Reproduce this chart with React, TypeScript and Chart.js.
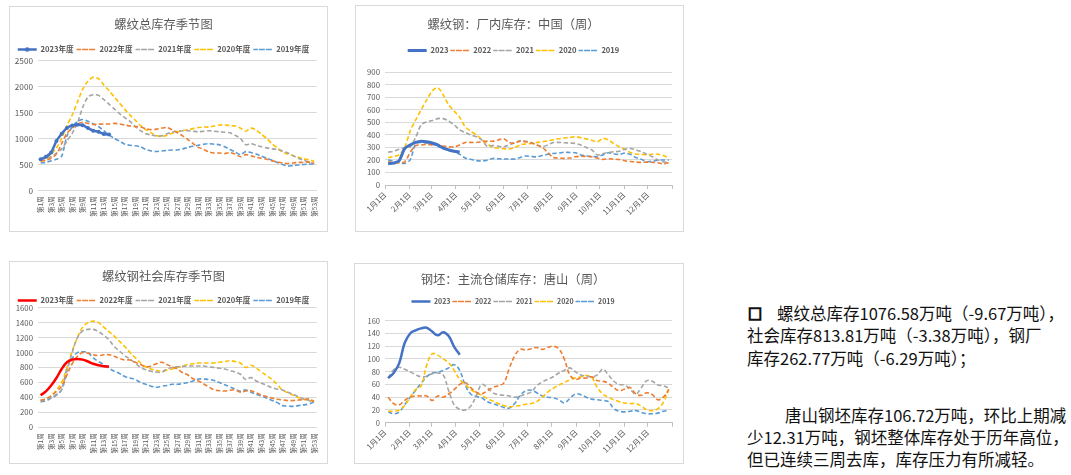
import React, { useEffect, useRef } from 'react';
import { Chart, registerables } from 'chart.js';

Chart.register(...registerables);

const FONT = '"Noto Sans CJK SC", "Noto Sans", sans-serif';
const TEXT = '#595959';
const GRID = '#d9d9d9';
const AXIS = '#bfbfbf';
const C2023 = '#4472c4';
const C2023_RED = '#ff0000';
const C2022 = '#ed7d31';
const C2021 = '#a5a5a5';
const C2020 = '#ffc000';
const C2019 = '#5b9bd5';

// ---------- tick labels ----------
const WEEK_LABELS = Array.from({ length: 53 }, (_, i) => `第${i + 1}周`);
const MONTH_DAYS = [0, 31, 59, 90, 120, 151, 181, 212, 243, 273, 304, 334, 365];
const MONTH_LABELS = ['1月1日', '2月1日', '3月1日', '4月1日', '5月1日', '6月1日', '7月1日', '8月1日', '9月1日', '10月1日', '11月1日', '12月1日', ''];

// ---------- chart 1: 螺纹总库存季节图 (weeks 1..53) ----------
const TOTAL_2023 = [600, 650, 730, 950, 1090, 1200, 1250, 1265, 1255, 1200, 1150, 1130, 1086, 1077];
const TOTAL_2022 = [570, 580, 620, 700, 900, 1100, 1200, 1280, 1310, 1290, 1270, 1275, 1280, 1280, 1290, 1280, 1260, 1240, 1230, 1220, 1190, 1170, 1180, 1200, 1210, 1170, 1110, 1050, 980, 900, 830, 790, 740, 720, 720, 710, 730, 700, 650, 690, 670, 640, 620, 600, 570, 550, 530, 520, 530, 540, 540, 545, 520];
const TOTAL_2021 = [600, 620, 650, 720, 800, 950, 1100, 1300, 1600, 1800, 1840, 1830, 1750, 1660, 1570, 1480, 1400, 1330, 1230, 1150, 1090, 1070, 1050, 1050, 1090, 1120, 1140, 1150, 1150, 1140, 1130, 1140, 1150, 1140, 1130, 1120, 1110, 1060, 1000, 880, 900, 870, 840, 820, 800, 790, 760, 720, 670, 620, 580, 550, 520];
const TOTAL_2020 = [560, 600, 700, 820, 1000, 1250, 1450, 1700, 1950, 2100, 2180, 2150, 2030, 1920, 1800, 1680, 1560, 1450, 1350, 1250, 1170, 1110, 1060, 1040, 1060, 1100, 1130, 1150, 1170, 1190, 1210, 1220, 1220, 1240, 1260, 1260, 1250, 1240, 1200, 1140, 1200, 1160, 1080, 1000, 900, 820, 740, 700, 670, 640, 610, 590, 560];
const TOTAL_2019 = [530, 540, 570, 600, 660, 1050, 1220, 1330, 1365, 1330, 1280, 1230, 1150, 1070, 1000, 950, 890, 870, 860, 840, 790, 760, 750, 760, 770, 780, 780, 800, 830, 850, 870, 890, 900, 890, 880, 840, 790, 740, 690, 750, 730, 700, 660, 620, 580, 540, 500, 470, 480, 490, 500, 510, 510];

// ---------- chart 2: 螺纹钢：厂内库存：中国（周） (weekly) ----------
const MILL_2023 = [170, 175, 195, 290, 320, 340, 350, 345, 335, 320, 295, 280, 269, 263];
const MILL_2022 = [185, 180, 178, 185, 260, 315, 320, 325, 320, 318, 312, 305, 305, 320, 340, 340, 340, 345, 350, 350, 360, 370, 340, 335, 350, 345, 335, 320, 300, 260, 220, 215, 213, 215, 225, 230, 228, 225, 215, 205, 210, 207, 203, 193, 188, 183, 181, 183, 181, 178, 168, 180];
const MILL_2021 = [262, 270, 285, 298, 305, 380, 480, 505, 515, 530, 530, 510, 480, 440, 420, 400, 385, 360, 310, 315, 310, 305, 320, 335, 355, 350, 340, 320, 306, 320, 340, 340, 338, 335, 332, 320, 300, 280, 240, 250, 260, 265, 270, 285, 292, 280, 266, 245, 226, 200, 186, 181];
const MILL_2020 = [218, 228, 240, 300, 430, 520, 600, 680, 750, 778, 720, 640, 590, 540, 465, 430, 400, 365, 330, 300, 295, 290, 287, 300, 320, 328, 332, 340, 345, 352, 362, 370, 375, 380, 386, 378, 368, 358, 345, 372, 360, 330, 305, 285, 260, 248, 245, 242, 245, 245, 235, 215];
const MILL_2019 = [200, 190, 180, 172, 200, 330, 340, 335, 325, 310, 295, 280, 265, 245, 215, 205, 195, 192, 198, 212, 210, 208, 207, 208, 220, 232, 228, 225, 235, 245, 252, 255, 262, 260, 258, 240, 232, 228, 226, 240, 258, 248, 245, 255, 245, 220, 205, 186, 190, 198, 200, 200];

// ---------- chart 3: 螺纹钢社会库存季节图 (weeks 1..53) ----------
const SOCIAL_2023 = [430, 480, 560, 660, 780, 870, 905, 915, 905, 880, 850, 830, 817, 814];
const SOCIAL_2022 = [360, 380, 420, 480, 550, 700, 850, 950, 1000, 990, 970, 960, 970, 970, 950, 920, 900, 900, 870, 840, 810, 820, 850, 870, 840, 810, 780, 730, 700, 650, 620, 580, 540, 500, 490, 485, 495, 500, 470, 485, 490, 460, 430, 410, 390, 375, 365, 358, 358, 365, 370, 380, 345];
const SOCIAL_2021 = [360, 370, 400, 440, 500, 750, 1000, 1200, 1290, 1310, 1310, 1280, 1230, 1170, 1080, 1020, 960, 910, 860, 800, 770, 750, 740, 735, 780, 800, 810, 815, 820, 820, 820, 820, 810, 800, 790, 780, 760, 740, 710, 640, 665, 620, 590, 560, 530, 510, 500, 470, 440, 410, 380, 360, 335];
const SOCIAL_2020 = [350, 380, 420, 500, 600, 800, 1020, 1200, 1340, 1400, 1420, 1400, 1340, 1280, 1220, 1150, 1080, 1000, 930, 860, 810, 780, 760, 750, 765, 780, 800, 820, 840, 850, 860, 860, 860, 860, 870, 880, 890, 880, 860, 800, 830, 790, 740, 690, 640, 570, 500, 460, 430, 400, 375, 360, 350];
const SOCIAL_2019 = [340, 355, 390, 430, 510, 780, 920, 1000, 1010, 1000, 930, 880, 840, 790, 750, 720, 680, 660, 640, 600, 575, 550, 535, 550, 560, 575, 575, 585, 600, 620, 645, 645, 640, 625, 600, 570, 540, 510, 480, 500, 470, 440, 420, 390, 360, 330, 290, 285, 280, 290, 300, 312, 340];

// ---------- chart 4: 钢坯：主流仓储库存：唐山（周） (weekly) ----------
const BILLET_2023 = [70, 78, 93, 125, 140, 145, 148, 149, 143, 137, 142, 136, 119, 106.7];
const BILLET_2022 = [40, 30, 28, 35, 40, 42, 42, 42, 35, 42, 40, 45, 52, 60, 63, 55, 48, 45, 50, 55, 58, 62, 85, 105, 115, 114, 116, 118, 115, 118, 120, 116, 100, 75, 68, 70, 70, 72, 66, 65, 62, 55, 50, 53, 55, 45, 43, 47, 44, 36, 40, 52];
const BILLET_2021 = [70, 83, 87, 84, 80, 75, 72, 73, 77, 78, 75, 50, 28, 21, 20, 26, 42, 60, 55, 47, 44, 43, 42, 40, 42, 45, 48, 58, 64, 68, 72, 78, 82, 86, 80, 75, 73, 72, 75, 84, 75, 65, 60, 59, 52, 45, 55, 66, 65, 59, 58, 54];
const BILLET_2020 = [18, 18, 20, 27, 40, 52, 58, 90, 108, 106, 100, 94, 82, 68, 60, 52, 47, 43, 38, 34, 30, 27, 25, 26, 27, 29, 30, 33, 40, 48, 54, 59, 63, 67, 70, 72, 74, 71, 55, 45, 40, 36, 33, 31, 30, 30, 26, 20, 19, 22, 32, 52];
const BILLET_2019 = [17, 14, 17, 28, 40, 51, 62, 72, 78, 79, 82, 86, 91, 82, 59, 45, 41, 39, 33, 30, 27, 24, 23, 30, 43, 50, 51, 47, 42, 40, 39, 36, 31, 38, 45, 44, 40, 37, 36, 35, 33, 22, 18, 17, 18, 19, 16, 14, 14, 15, 18, 19];

// weekly series placed on a day-of-year axis (week k -> its day)
const weekDay = (k: number) => 4 + 7 * k;
const toDays = (arr: number[]) => arr.map((v, k) => ({ x: weekDay(k), y: v }));

type Geo = {
  w: number; h: number;
  titleY: number; ts: number;
  legendY: number; fs: number; lp: number;
  areaTop: number; areaBottom: number; areaLeft: number; areaRight: number;
};

const DASH = [4.5, 2.5];
const BOX_W = 19;

function line(label: string, data: any[], color: string, width: number, dashed: boolean, tension: number, extra: any = {}) {
  return {
    label,
    data,
    borderColor: color,
    backgroundColor: color,
    borderWidth: width,
    borderDash: dashed ? DASH : [],
    pointRadius: 0,
    tension,
    fill: false,
    ...extra,
  };
}

// draws the round marker on the first legend sample (series shown with markers)
const legendMarker = {
  id: 'legendMarker',
  afterDraw(chart: any) {
    const ds = chart.data.datasets[0];
    if (!ds || !ds.pointRadius) return;
    const lg = chart.legend;
    if (!lg || !lg.legendHitBoxes || !lg.legendHitBoxes[0]) return;
    const hb = lg.legendHitBoxes[0];
    const ctx = chart.ctx;
    ctx.save();
    ctx.fillStyle = ds.borderColor;
    ctx.beginPath();
    ctx.arc(hb.left + BOX_W / 2, hb.top + hb.height / 2, 2.3, 0, Math.PI * 2);
    ctx.fill();
    ctx.restore();
  },
};

function makeConfig(g: Geo, title: string, datasets: any[], labels: any, xScale: any, yScale: any) {
  const titleBottom = g.titleY + 0.6 * g.ts;
  const legendTop = g.legendY - g.lp - g.fs / 2;
  const s1 = Math.max(0, legendTop - titleBottom);
  const natural = g.fs + g.lp + 10;
  const s2 = g.areaTop - (legendTop + natural);
  return {
    type: 'line',
    data: labels ? { labels, datasets } : { datasets },
    plugins: [legendMarker],
    options: {
      responsive: false,
      animation: false,
      events: [],
      layout: { padding: { top: 0, left: 0, right: g.w - g.areaRight, bottom: 0 } },
      plugins: {
        title: {
          display: true,
          text: title,
          color: TEXT,
          font: { size: g.ts, family: FONT, weight: 'normal' },
          padding: { top: g.titleY - 0.6 * g.ts, bottom: s1 },
        },
        subtitle: {
          display: s2 > 0,
          text: '',
          weight: 10,
          font: { size: 1, lineHeight: 0 },
          padding: { top: s2 > 0 ? s2 : 0, bottom: 0 },
        },
        legend: {
          display: true,
          position: 'top',
          maxHeight: natural + Math.min(0, s2),
          labels: {
            boxWidth: BOX_W,
            boxHeight: 0,
            padding: g.lp,
            color: TEXT,
            font: { size: g.fs, family: FONT, weight: 'bold' },
          },
        },
        tooltip: { enabled: false },
      },
      scales: {
        x: { ...xScale, afterFit: (s: any) => { s.height = g.h - g.areaBottom; } },
        y: { ...yScale, afterFit: (s: any) => { s.width = g.areaLeft; } },
      },
    },
  };
}

const weekAxis = {
  type: 'category',
  offset: true,
  grid: { display: false, drawTicks: false, tickLength: 0 },
  border: { display: true, color: GRID },
  ticks: {
    autoSkip: false,
    maxRotation: 90,
    minRotation: 90,
    padding: 6,
    color: TEXT,
    font: { size: 6.5, family: FONT },
    callback: (_v: any, i: number) => (i % 2 === 0 ? WEEK_LABELS[i] : ''),
  },
};

const dateAxis = {
  type: 'linear',
  min: 0,
  max: 365,
  afterBuildTicks: (s: any) => { s.ticks = MONTH_DAYS.map((v) => ({ value: v })); },
  grid: { display: true, drawOnChartArea: false, drawTicks: true, tickLength: 4, color: AXIS },
  border: { display: true, color: AXIS },
  ticks: {
    autoSkip: false,
    maxRotation: 45,
    minRotation: 45,
    padding: 1,
    color: TEXT,
    font: { size: 7.8, family: FONT },
    callback: (v: any) => {
      const i = MONTH_DAYS.indexOf(v);
      return i >= 0 ? MONTH_LABELS[i] : '';
    },
  },
};

function valueAxis(max: number, step: number, size: number) {
  return {
    type: 'linear',
    min: 0,
    max,
    grid: { color: GRID, drawTicks: false, tickLength: 0 },
    border: { display: false },
    ticks: { stepSize: step, padding: 5, color: TEXT, font: { size: size, family: FONT }, callback: (v: any) => String(v) },
  };
}

const G1: Geo = { w: 319, h: 226, titleY: 18.5, ts: 12.3, legendY: 43.5, fs: 7.6, lp: 3, areaTop: 54.5, areaBottom: 184.5, areaLeft: 29, areaRight: 309 };
const G2: Geo = { w: 329, h: 227, titleY: 19.5, ts: 12.3, legendY: 45.5, fs: 7.6, lp: 2, areaTop: 67.3, areaBottom: 180, areaLeft: 30, areaRight: 317 };
const G3: Geo = { w: 319, h: 203, titleY: 15.5, ts: 12.3, legendY: 39.5, fs: 7.6, lp: 3, areaTop: 46.7, areaBottom: 166.3, areaLeft: 29, areaRight: 309 };
const G4: Geo = { w: 330, h: 201, titleY: 16, ts: 12.3, legendY: 38.5, fs: 7, lp: 2, areaTop: 57.7, areaBottom: 159.7, areaLeft: 31, areaRight: 318 };

function config1() {
  return makeConfig(G1, '螺纹总库存季节图', [
    line('2023年度', TOTAL_2023, C2023, 2.5, false, 0.25, { pointRadius: 2, pointBackgroundColor: C2023, pointBorderWidth: 0 }),
    line('2022年度', TOTAL_2022, C2022, 1.6, true, 0.25),
    line('2021年度', TOTAL_2021, C2021, 1.6, true, 0.25),
    line('2020年度', TOTAL_2020, C2020, 1.6, true, 0.25),
    line('2019年度', TOTAL_2019, C2019, 1.6, true, 0.25),
  ], WEEK_LABELS, weekAxis, valueAxis(2500, 500, 8.2));
}

function config2() {
  return makeConfig(G2, '螺纹钢：厂内库存：中国（周）', [
    line('2023', toDays(MILL_2023), C2023, 3, false, 0.3),
    line('2022', toDays(MILL_2022), C2022, 1.6, true, 0.3),
    line('2021', toDays(MILL_2021), C2021, 1.6, true, 0.3),
    line('2020', toDays(MILL_2020), C2020, 1.6, true, 0.3),
    line('2019', toDays(MILL_2019), C2019, 1.6, true, 0.3),
  ], null, dateAxis, valueAxis(900, 100, 7.8));
}

function config3() {
  return makeConfig(G3, '螺纹钢社会库存季节图', [
    line('2023年度', SOCIAL_2023, C2023_RED, 2.5, false, 0.4),
    line('2022年度', SOCIAL_2022, C2022, 1.6, true, 0.4),
    line('2021年度', SOCIAL_2021, C2021, 1.6, true, 0.4),
    line('2020年度', SOCIAL_2020, C2020, 1.6, true, 0.4),
    line('2019年度', SOCIAL_2019, C2019, 1.6, true, 0.4),
  ], WEEK_LABELS, weekAxis, valueAxis(1600, 200, 7.8));
}

function config4() {
  return makeConfig(G4, '钢坯：主流仓储库存：唐山（周）', [
    line('2023', toDays(BILLET_2023), C2023, 2.5, false, 0.4),
    line('2022', toDays(BILLET_2022), C2022, 1.6, true, 0.4),
    line('2021', toDays(BILLET_2021), C2021, 1.6, true, 0.4),
    line('2020', toDays(BILLET_2020), C2020, 1.6, true, 0.4),
    line('2019', toDays(BILLET_2019), C2019, 1.6, true, 0.4),
  ], null, dateAxis, valueAxis(160, 20, 7.5));
}

function Panel({ left, top, g, make }: { left: number; top: number; g: Geo; make: () => any }) {
  const ref = useRef<HTMLCanvasElement | null>(null);
  useEffect(() => {
    if (!ref.current) return;
    const chart = new Chart(ref.current, make());
    return () => chart.destroy();
  }, []);
  return (
    <div style={{ position: 'absolute', left, top, width: g.w, height: g.h }}>
      <canvas ref={ref} width={g.w} height={g.h} style={{ position: 'absolute', left: 0, top: 0, width: g.w, height: g.h }} />
      <div style={{ position: 'absolute', inset: 0, border: '1px solid #d9d9d9', boxSizing: 'border-box', pointerEvents: 'none' }} />
    </div>
  );
}

const lineStyle = (left: number, cy: number): React.CSSProperties => ({
  position: 'absolute',
  left,
  top: cy - 11,
  height: 22,
  lineHeight: '22px',
  fontSize: 16.5,
  fontFamily: FONT,
  color: '#111111',
  whiteSpace: 'nowrap',
});

export default function App() {
  return (
    <div style={{ position: 'fixed', left: 0, top: 0, width: 1071, height: 475, background: '#ffffff', overflow: 'hidden', fontFamily: FONT }}>
      <Panel left={9} top={6} g={G1} make={config1} />
      <Panel left={355} top={5} g={G2} make={config2} />
      <Panel left={9} top={261} g={G3} make={config3} />
      <Panel left={354} top={263} g={G4} make={config4} />
      <div style={{ ...lineStyle(748, 313), fontWeight: 'bold', fontSize: 14, WebkitTextStroke: '1.4px #111111' }}>□</div>
      <div style={lineStyle(777, 313)}>螺纹总库存1076.58万吨（-9.67万吨），</div>
      <div style={lineStyle(747, 335)}>社会库存813.81万吨（-3.38万吨），钢厂</div>
      <div style={lineStyle(747, 358)}>库存262.77万吨（-6.29万吨）；</div>
      <div style={lineStyle(785, 415)}>唐山钢坯库存106.72万吨，环比上期减</div>
      <div style={lineStyle(747, 437)}>少12.31万吨，钢坯整体库存处于历年高位，</div>
      <div style={lineStyle(747, 459)}>但已连续三周去库，库存压力有所减轻。</div>
    </div>
  );
}
